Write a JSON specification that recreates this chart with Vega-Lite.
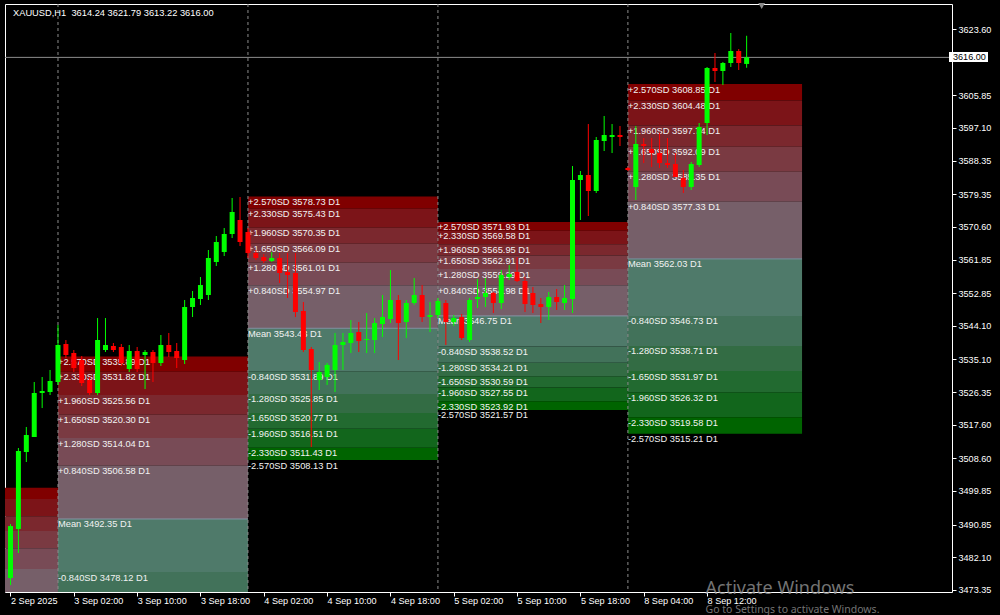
{
  "$schema": "https://vega.github.io/schema/vega-lite/v6.json",
  "width": 947,
  "height": 588,
  "autosize": {"type": "none"},
  "padding": {"left": 5, "top": 4, "right": 48, "bottom": 23},
  "background": "#000000",
  "config": {"view": {"stroke": "#ffffff", "strokeWidth": 1}, "text": {"font": "Liberation Sans"}},
  "resolve": {"axis": {"x": "independent", "y": "independent"}},
  "datasets": {
    "zones": [
      {"s": -18, "e": 6, "z": "z1", "t": 3500.73, "b": 3497.71},
      {"s": -18, "e": 6, "z": "z2", "t": 3497.71, "b": 3493.06},
      {"s": -18, "e": 6, "z": "z3", "t": 3493.06, "b": 3489.16},
      {"s": -18, "e": 6, "z": "z4", "t": 3489.16, "b": 3484.50},
      {"s": -18, "e": 6, "z": "z5", "t": 3484.50, "b": 3478.97},
      {"s": -18, "e": 6, "z": "z6", "t": 3478.97, "b": 3468.40},
      {"s": 6, "e": 30, "z": "z1", "t": 3535.89, "b": 3531.82},
      {"s": 6, "e": 30, "z": "z2", "t": 3531.82, "b": 3525.56},
      {"s": 6, "e": 30, "z": "z3", "t": 3525.56, "b": 3520.30},
      {"s": 6, "e": 30, "z": "z4", "t": 3520.30, "b": 3514.04},
      {"s": 6, "e": 30, "z": "z5", "t": 3514.04, "b": 3506.58},
      {"s": 6, "e": 30, "z": "z6", "t": 3506.58, "b": 3492.35},
      {"s": 6, "e": 30, "z": "z7", "t": 3492.35, "b": 3478.12},
      {"s": 6, "e": 30, "z": "z8", "t": 3478.12, "b": 3470.67},
      {"s": 30, "e": 54, "z": "z1", "t": 3578.73, "b": 3575.43},
      {"s": 30, "e": 54, "z": "z2", "t": 3575.43, "b": 3570.35},
      {"s": 30, "e": 54, "z": "z3", "t": 3570.35, "b": 3566.09},
      {"s": 30, "e": 54, "z": "z4", "t": 3566.09, "b": 3561.01},
      {"s": 30, "e": 54, "z": "z5", "t": 3561.01, "b": 3554.97},
      {"s": 30, "e": 54, "z": "z6", "t": 3554.97, "b": 3543.43},
      {"s": 30, "e": 54, "z": "z7", "t": 3543.43, "b": 3531.89},
      {"s": 30, "e": 54, "z": "z8", "t": 3531.89, "b": 3525.85},
      {"s": 30, "e": 54, "z": "z9", "t": 3525.85, "b": 3520.77},
      {"s": 30, "e": 54, "z": "z10", "t": 3520.77, "b": 3516.51},
      {"s": 30, "e": 54, "z": "z11", "t": 3516.51, "b": 3511.43},
      {"s": 30, "e": 54, "z": "z12", "t": 3511.43, "b": 3508.13},
      {"s": 54, "e": 78, "z": "z1", "t": 3571.93, "b": 3569.58},
      {"s": 54, "e": 78, "z": "z2", "t": 3569.58, "b": 3565.95},
      {"s": 54, "e": 78, "z": "z3", "t": 3565.95, "b": 3562.91},
      {"s": 54, "e": 78, "z": "z4", "t": 3562.91, "b": 3559.29},
      {"s": 54, "e": 78, "z": "z5", "t": 3559.29, "b": 3554.98},
      {"s": 54, "e": 78, "z": "z6", "t": 3554.98, "b": 3546.75},
      {"s": 54, "e": 78, "z": "z7", "t": 3546.75, "b": 3538.52},
      {"s": 54, "e": 78, "z": "z8", "t": 3538.52, "b": 3534.21},
      {"s": 54, "e": 78, "z": "z9", "t": 3534.21, "b": 3530.59},
      {"s": 54, "e": 78, "z": "z10", "t": 3530.59, "b": 3527.55},
      {"s": 54, "e": 78, "z": "z11", "t": 3527.55, "b": 3523.92},
      {"s": 54, "e": 78, "z": "z12", "t": 3523.92, "b": 3521.57},
      {"s": 78, "e": 100, "z": "z1", "t": 3608.85, "b": 3604.48},
      {"s": 78, "e": 100, "z": "z2", "t": 3604.48, "b": 3597.74},
      {"s": 78, "e": 100, "z": "z3", "t": 3597.74, "b": 3592.09},
      {"s": 78, "e": 100, "z": "z4", "t": 3592.09, "b": 3585.35},
      {"s": 78, "e": 100, "z": "z5", "t": 3585.35, "b": 3577.33},
      {"s": 78, "e": 100, "z": "z6", "t": 3577.33, "b": 3562.03},
      {"s": 78, "e": 100, "z": "z7", "t": 3562.03, "b": 3546.73},
      {"s": 78, "e": 100, "z": "z8", "t": 3546.73, "b": 3538.71},
      {"s": 78, "e": 100, "z": "z9", "t": 3538.71, "b": 3531.97},
      {"s": 78, "e": 100, "z": "z10", "t": 3531.97, "b": 3526.32},
      {"s": 78, "e": 100, "z": "z11", "t": 3526.32, "b": 3519.58},
      {"s": 78, "e": 100, "z": "z12", "t": 3519.58, "b": 3515.21}
    ],
    "labels": [
      {"s": 6, "k": "+2.570SD", "p": 3535.89},
      {"s": 6, "k": "+2.330SD", "p": 3531.82},
      {"s": 6, "k": "+1.960SD", "p": 3525.56},
      {"s": 6, "k": "+1.650SD", "p": 3520.30},
      {"s": 6, "k": "+1.280SD", "p": 3514.04},
      {"s": 6, "k": "+0.840SD", "p": 3506.58},
      {"s": 6, "k": "Mean", "p": 3492.35},
      {"s": 6, "k": "-0.840SD", "p": 3478.12},
      {"s": 30, "k": "+2.570SD", "p": 3578.73},
      {"s": 30, "k": "+2.330SD", "p": 3575.43},
      {"s": 30, "k": "+1.960SD", "p": 3570.35},
      {"s": 30, "k": "+1.650SD", "p": 3566.09},
      {"s": 30, "k": "+1.280SD", "p": 3561.01},
      {"s": 30, "k": "+0.840SD", "p": 3554.97},
      {"s": 30, "k": "Mean", "p": 3543.43},
      {"s": 30, "k": "-0.840SD", "p": 3531.89},
      {"s": 30, "k": "-1.280SD", "p": 3525.85},
      {"s": 30, "k": "-1.650SD", "p": 3520.77},
      {"s": 30, "k": "-1.960SD", "p": 3516.51},
      {"s": 30, "k": "-2.330SD", "p": 3511.43},
      {"s": 30, "k": "-2.570SD", "p": 3508.13},
      {"s": 54, "k": "+2.570SD", "p": 3571.93},
      {"s": 54, "k": "+2.330SD", "p": 3569.58},
      {"s": 54, "k": "+1.960SD", "p": 3565.95},
      {"s": 54, "k": "+1.650SD", "p": 3562.91},
      {"s": 54, "k": "+1.280SD", "p": 3559.29},
      {"s": 54, "k": "+0.840SD", "p": 3554.98},
      {"s": 54, "k": "Mean", "p": 3546.75},
      {"s": 54, "k": "-0.840SD", "p": 3538.52},
      {"s": 54, "k": "-1.280SD", "p": 3534.21},
      {"s": 54, "k": "-1.650SD", "p": 3530.59},
      {"s": 54, "k": "-1.960SD", "p": 3527.55},
      {"s": 54, "k": "-2.330SD", "p": 3523.92},
      {"s": 54, "k": "-2.570SD", "p": 3521.57},
      {"s": 78, "k": "+2.570SD", "p": 3608.85},
      {"s": 78, "k": "+2.330SD", "p": 3604.48},
      {"s": 78, "k": "+1.960SD", "p": 3597.74},
      {"s": 78, "k": "+1.650SD", "p": 3592.09},
      {"s": 78, "k": "+1.280SD", "p": 3585.35},
      {"s": 78, "k": "+0.840SD", "p": 3577.33},
      {"s": 78, "k": "Mean", "p": 3562.03},
      {"s": 78, "k": "-0.840SD", "p": 3546.73},
      {"s": 78, "k": "-1.280SD", "p": 3538.71},
      {"s": 78, "k": "-1.650SD", "p": 3531.97},
      {"s": 78, "k": "-1.960SD", "p": 3526.32},
      {"s": 78, "k": "-2.330SD", "p": 3519.58},
      {"s": 78, "k": "-2.570SD", "p": 3515.21}
    ],
    "seps": [{"i": 6}, {"i": 30}, {"i": 54}, {"i": 78}],
    "candles": [
      {"i":0,"o":3476.53,"h":3490.99,"l":3474.66,"c":3490.46},
      {"i":1,"o":3489.66,"h":3511.36,"l":3483.23,"c":3510.56},
      {"i":2,"o":3510.29,"h":3516.99,"l":3507.61,"c":3514.84},
      {"i":3,"o":3514.31,"h":3529.04,"l":3514.31,"c":3526.09},
      {"i":4,"o":3526.09,"h":3530.38,"l":3522.07,"c":3526.63},
      {"i":5,"o":3526.36,"h":3532.26,"l":3525.56,"c":3529.31},
      {"i":6,"o":3529.04,"h":3544.31,"l":3528.24,"c":3538.95},
      {"i":7,"o":3539.22,"h":3540.29,"l":3535.47,"c":3536.27},
      {"i":8,"o":3536.81,"h":3537.61,"l":3531.72,"c":3532.79},
      {"i":9,"o":3534.93,"h":3536.00,"l":3527.97,"c":3528.77},
      {"i":10,"o":3529.58,"h":3530.38,"l":3525.56,"c":3526.09},
      {"i":11,"o":3526.09,"h":3546.18,"l":3525.56,"c":3540.29},
      {"i":12,"o":3537.61,"h":3546.18,"l":3537.08,"c":3538.95},
      {"i":13,"o":3538.68,"h":3539.49,"l":3537.08,"c":3537.61},
      {"i":14,"o":3538.42,"h":3539.22,"l":3533.33,"c":3534.13},
      {"i":15,"o":3532.52,"h":3538.95,"l":3531.72,"c":3537.35},
      {"i":16,"o":3537.35,"h":3538.42,"l":3531.72,"c":3532.52},
      {"i":17,"o":3536.27,"h":3537.61,"l":3527.16,"c":3537.08},
      {"i":18,"o":3537.08,"h":3537.61,"l":3529.04,"c":3534.13},
      {"i":19,"o":3534.13,"h":3541.63,"l":3533.33,"c":3538.95},
      {"i":20,"o":3538.95,"h":3542.17,"l":3535.74,"c":3537.08},
      {"i":21,"o":3537.35,"h":3539.49,"l":3532.79,"c":3535.47},
      {"i":22,"o":3534.93,"h":3551.01,"l":3533.86,"c":3549.13},
      {"i":23,"o":3549.13,"h":3553.42,"l":3546.45,"c":3551.54},
      {"i":24,"o":3551.28,"h":3557.17,"l":3549.67,"c":3555.02},
      {"i":25,"o":3552.35,"h":3564.40,"l":3551.01,"c":3562.26},
      {"i":26,"o":3561.19,"h":3568.15,"l":3560.12,"c":3566.54},
      {"i":27,"o":3563.87,"h":3570.29,"l":3562.79,"c":3568.69},
      {"i":28,"o":3568.69,"h":3578.33,"l":3567.61,"c":3574.58},
      {"i":29,"o":3572.44,"h":3578.60,"l":3565.47,"c":3566.54},
      {"i":30,"o":3569.22,"h":3570.29,"l":3562.26,"c":3563.59},
      {"i":31,"o":3563.59,"h":3564.40,"l":3561.72,"c":3562.26},
      {"i":32,"o":3562.52,"h":3563.33,"l":3560.92,"c":3561.45},
      {"i":33,"o":3561.45,"h":3563.87,"l":3561.19,"c":3562.26},
      {"i":34,"o":3562.26,"h":3563.59,"l":3555.56,"c":3558.24},
      {"i":35,"o":3558.51,"h":3563.59,"l":3551.54,"c":3557.70},
      {"i":36,"o":3558.24,"h":3563.59,"l":3546.45,"c":3547.79},
      {"i":37,"o":3548.06,"h":3550.47,"l":3537.08,"c":3537.61},
      {"i":38,"o":3537.88,"h":3538.42,"l":3511.63,"c":3532.26},
      {"i":39,"o":3529.58,"h":3534.40,"l":3526.90,"c":3531.72},
      {"i":40,"o":3530.38,"h":3534.13,"l":3528.24,"c":3533.60},
      {"i":41,"o":3532.26,"h":3542.17,"l":3526.36,"c":3538.95},
      {"i":42,"o":3538.95,"h":3542.17,"l":3532.26,"c":3539.76},
      {"i":43,"o":3539.49,"h":3545.65,"l":3536.81,"c":3542.17},
      {"i":44,"o":3542.44,"h":3545.12,"l":3537.08,"c":3540.02},
      {"i":45,"o":3540.29,"h":3547.52,"l":3536.81,"c":3540.56},
      {"i":46,"o":3540.29,"h":3546.18,"l":3536.81,"c":3544.84},
      {"i":47,"o":3544.58,"h":3552.35,"l":3541.10,"c":3546.45},
      {"i":48,"o":3545.92,"h":3559.04,"l":3544.84,"c":3551.01},
      {"i":49,"o":3551.01,"h":3552.35,"l":3534.93,"c":3544.84},
      {"i":50,"o":3545.12,"h":3551.01,"l":3540.83,"c":3550.20},
      {"i":51,"o":3550.20,"h":3556.90,"l":3549.67,"c":3552.35},
      {"i":52,"o":3552.35,"h":3555.02,"l":3545.12,"c":3546.45},
      {"i":53,"o":3546.45,"h":3550.47,"l":3542.44,"c":3546.99},
      {"i":54,"o":3546.99,"h":3551.54,"l":3546.18,"c":3550.74},
      {"i":55,"o":3550.20,"h":3551.01,"l":3538.95,"c":3545.12},
      {"i":56,"o":3545.12,"h":3546.99,"l":3544.04,"c":3546.18},
      {"i":57,"o":3546.45,"h":3547.26,"l":3540.29,"c":3540.83},
      {"i":58,"o":3540.29,"h":3551.54,"l":3539.76,"c":3551.01},
      {"i":59,"o":3551.28,"h":3556.63,"l":3548.86,"c":3551.81},
      {"i":60,"o":3551.81,"h":3556.90,"l":3549.13,"c":3552.88},
      {"i":61,"o":3552.88,"h":3553.15,"l":3547.52,"c":3550.20},
      {"i":62,"o":3550.20,"h":3559.04,"l":3548.60,"c":3557.70},
      {"i":63,"o":3557.17,"h":3560.38,"l":3556.37,"c":3557.97},
      {"i":64,"o":3558.51,"h":3562.52,"l":3555.83,"c":3556.10},
      {"i":65,"o":3556.10,"h":3557.17,"l":3547.79,"c":3549.93},
      {"i":66,"o":3552.88,"h":3554.49,"l":3547.52,"c":3549.67},
      {"i":67,"o":3549.93,"h":3551.54,"l":3544.84,"c":3549.13},
      {"i":68,"o":3549.13,"h":3553.15,"l":3545.65,"c":3551.81},
      {"i":69,"o":3551.81,"h":3553.95,"l":3548.33,"c":3550.47},
      {"i":70,"o":3550.20,"h":3555.02,"l":3548.33,"c":3551.54},
      {"i":71,"o":3551.28,"h":3586.90,"l":3547.52,"c":3583.15},
      {"i":72,"o":3583.15,"h":3585.56,"l":3572.44,"c":3584.49},
      {"i":73,"o":3584.49,"h":3598.15,"l":3573.51,"c":3580.20},
      {"i":74,"o":3580.20,"h":3594.67,"l":3579.67,"c":3593.87},
      {"i":75,"o":3593.60,"h":3600.30,"l":3590.92,"c":3595.21},
      {"i":76,"o":3594.67,"h":3598.15,"l":3590.38,"c":3595.21},
      {"i":77,"o":3595.21,"h":3597.62,"l":3592.26,"c":3594.67},
      {"i":78,"o":3586.37,"h":3586.63,"l":3585.56,"c":3585.83},
      {"i":79,"o":3581.28,"h":3597.62,"l":3577.79,"c":3592.80},
      {"i":80,"o":3592.80,"h":3594.40,"l":3587.70,"c":3592.26},
      {"i":81,"o":3591.46,"h":3594.40,"l":3586.63,"c":3590.38},
      {"i":82,"o":3590.38,"h":3595.74,"l":3586.37,"c":3587.70},
      {"i":83,"o":3587.70,"h":3594.40,"l":3586.37,"c":3587.17},
      {"i":84,"o":3587.44,"h":3590.38,"l":3583.96,"c":3583.96},
      {"i":85,"o":3583.69,"h":3585.83,"l":3579.67,"c":3581.28},
      {"i":86,"o":3581.28,"h":3587.97,"l":3580.47,"c":3587.44},
      {"i":87,"o":3587.17,"h":3598.42,"l":3586.63,"c":3597.35},
      {"i":88,"o":3598.42,"h":3613.42,"l":3595.21,"c":3613.15},
      {"i":89,"o":3613.15,"h":3617.17,"l":3609.40,"c":3612.35},
      {"i":90,"o":3612.35,"h":3614.76,"l":3608.60,"c":3614.49},
      {"i":91,"o":3614.49,"h":3622.53,"l":3613.42,"c":3617.71},
      {"i":92,"o":3617.71,"h":3618.24,"l":3612.62,"c":3614.49},
      {"i":93,"o":3614.24,"h":3621.79,"l":3613.22,"c":3616.00}
    ]
  },
  "layer": [
    {
      "data": {"name": "zones"},
      "mark": {"type": "rect", "clip": true},
      "encoding": {
        "x": {
          "field": "s", "type": "quantitative",
          "scale": {"domain": [-0.0625, 118.3125], "nice": false, "zero": false},
          "axis": {
            "title": null, "grid": false, "domain": false, "orient": "bottom",
            "values": [0, 8, 16, 24, 32, 40, 48, 56, 64, 72, 80, 88],
            "labelExpr": "['2 Sep 2025','3 Sep 02:00','3 Sep 10:00','3 Sep 18:00','4 Sep 02:00','4 Sep 10:00','4 Sep 18:00','5 Sep 02:00','5 Sep 10:00','5 Sep 18:00','8 Sep 04:00','8 Sep 12:00'][round(datum.value / 8)]",
            "labelAlign": "left", "labelBaseline": "top", "labelPadding": 0, "labelFlush": false, "labelOverlap": false, "labelBound": false,
            "tickSize": 4, "tickColor": "#ffffff", "labelColor": "#ffffff", "labelFont": "Liberation Sans", "labelFontSize": 9.1
          }
        },
        "x2": {"field": "e"},
        "y": {
          "field": "t", "type": "quantitative",
          "scale": {"domain": [3472.79, 3630.30], "nice": false, "zero": false},
          "axis": {
            "title": null, "grid": false, "domain": false, "orient": "right",
            "values": [3623.60, 3605.85, 3597.10, 3588.35, 3579.35, 3570.60, 3561.85, 3552.85, 3544.10, 3535.10, 3526.35, 3517.60, 3508.60, 3499.85, 3490.85, 3482.10, 3473.35],
            "format": ".2f", "labelAlign": "left", "labelBaseline": "middle", "labelPadding": 2, "labelFlush": false, "labelOverlap": false, "labelBound": false,
            "tickSize": 4, "tickColor": "#ffffff", "labelColor": "#ffffff", "labelFont": "Liberation Sans", "labelFontSize": 9.1
          }
        },
        "y2": {"field": "b"},
        "color": {
          "field": "z", "type": "nominal", "legend": null,
          "scale": {
            "domain": ["z1","z2","z3","z4","z5","z6","z7","z8","z9","z10","z11","z12"],
            "range": ["#800000","#7c1418","#7b282e","#7a3a42","#784b56","#765f69","#4f7a6a","#42725a","#336c44","#226a30","#12661c","#006400"]
          }
        }
      }
    },
    {
      "data": {"name": "zones"},
      "transform": [{"filter": "datum.z == 'z6'"}],
      "mark": {"type": "rule", "color": "#8595a5", "strokeWidth": 1, "clip": true},
      "encoding": {
        "x": {"field": "s", "type": "quantitative", "axis": null},
        "x2": {"field": "e"},
        "y": {"field": "b", "type": "quantitative", "axis": null}
      }
    },
    {
      "data": {"name": "seps"},
      "mark": {"type": "rule", "color": "#8c8c8c", "strokeDash": [3, 3], "strokeWidth": 1},
      "encoding": {"x": {"field": "i", "type": "quantitative", "axis": null}}
    },
    {
      "data": {"values": [{}]},
      "mark": {"type": "rule", "color": "#8c8c8c", "strokeWidth": 1},
      "encoding": {"y": {"datum": 3616, "type": "quantitative", "axis": null}}
    },
    {
      "data": {"name": "labels"},
      "transform": [{"calculate": "datum.k + ' ' + format(datum.p, '.2f') + ' D1'", "as": "txt"}],
      "mark": {"type": "text", "align": "left", "baseline": "middle", "dy": 5.5, "fontSize": 9.3, "fill": "#f2f2f2", "clip": true},
      "encoding": {
        "x": {"field": "s", "type": "quantitative", "axis": null},
        "y": {"field": "p", "type": "quantitative", "axis": null},
        "text": {"field": "txt"}
      }
    },
    {
      "data": {"name": "candles"},
      "mark": {"type": "rule", "strokeWidth": 1, "clip": true},
      "encoding": {
        "x": {"field": "i", "type": "quantitative", "axis": null},
        "y": {"field": "l", "type": "quantitative", "axis": null},
        "y2": {"field": "h"},
        "color": {"condition": {"test": "datum.c >= datum.o", "value": "#00ff00"}, "value": "#ff0000"}
      }
    },
    {
      "data": {"name": "candles"},
      "mark": {"type": "bar", "size": 5, "clip": true},
      "encoding": {
        "x": {"field": "i", "type": "quantitative", "axis": null},
        "y": {"field": "o", "type": "quantitative", "axis": null},
        "y2": {"field": "c"},
        "color": {"condition": {"test": "datum.c >= datum.o", "value": "#00ff00"}, "value": "#ff0000"}
      }
    },
    {
      "data": {"values": [{}]},
      "mark": {"type": "text", "align": "left", "baseline": "middle", "dx": 3, "dy": 9, "fontSize": 9.3, "fill": "#ffffff", "text": "XAUUSD,H1\u00a0 3614.24 3621.79 3613.22 3616.00"},
      "encoding": {
        "x": {"datum": -0.0625, "type": "quantitative", "axis": null},
        "y": {"datum": 3630.30, "type": "quantitative", "axis": null}
      }
    },
    {
      "data": {"values": [{}]},
      "mark": {"type": "point", "shape": "triangle-down", "filled": true, "size": 45, "color": "#8c8c8c", "opacity": 1, "yOffset": 2},
      "encoding": {
        "x": {"datum": 94.9, "type": "quantitative", "axis": null},
        "y": {"datum": 3630.30, "type": "quantitative", "axis": null}
      }
    },
    {
      "data": {"values": [{}]},
      "mark": {"type": "rect", "fill": "#ffffff", "clip": false, "xOffset": 2, "x2Offset": 41, "yOffset": -5.5, "y2Offset": 4.5},
      "encoding": {
        "x": {"datum": 118.3125, "type": "quantitative", "axis": null},
        "x2": {"datum": 118.3125},
        "y": {"datum": 3616, "type": "quantitative", "axis": null},
        "y2": {"datum": 3616}
      }
    },
    {
      "data": {"values": [{}]},
      "mark": {"type": "text", "align": "left", "baseline": "middle", "dx": 6, "fontSize": 9.1, "fill": "#000000", "text": "3616.00"},
      "encoding": {
        "x": {"datum": 118.3125, "type": "quantitative", "axis": null},
        "y": {"datum": 3616, "type": "quantitative", "axis": null}
      }
    },
    {
      "data": {"values": [{}]},
      "mark": {"type": "text", "align": "left", "baseline": "middle", "font": "Noto Sans", "fontSize": 18, "fill": "#9a9a9a", "opacity": 0.75, "clip": false, "text": "Activate Windows"},
      "encoding": {
        "x": {"datum": 87.81, "type": "quantitative", "axis": null},
        "y": {"datum": 3473.6, "type": "quantitative", "axis": null}
      }
    },
    {
      "data": {"values": [{}]},
      "mark": {"type": "text", "align": "left", "baseline": "middle", "font": "Noto Sans", "fontSize": 10.5, "fill": "#9a9a9a", "opacity": 0.75, "clip": false, "text": "Go to Settings to activate Windows."},
      "encoding": {
        "x": {"datum": 87.81, "type": "quantitative", "axis": null},
        "y": {"datum": 3467.96, "type": "quantitative", "axis": null}
      }
    }
  ]
}
